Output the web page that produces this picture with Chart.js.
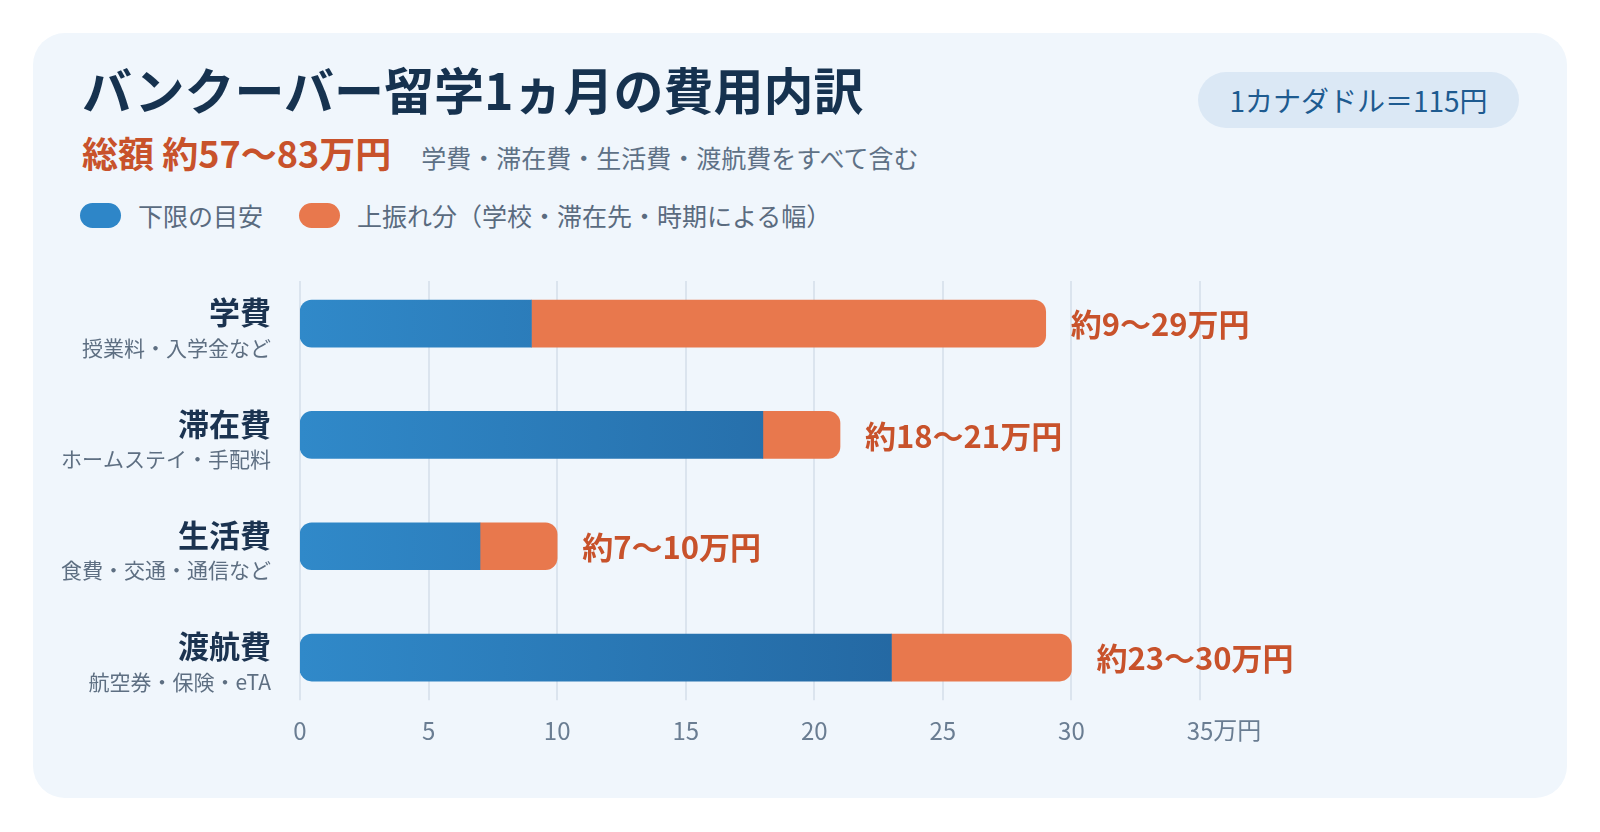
<!DOCTYPE html>
<html lang="ja">
<head>
<meta charset="utf-8">
<title>バンクーバー留学1ヵ月の費用内訳</title>
<script src="https://cdn.jsdelivr.net/npm/chart.js@4/dist/chart.umd.min.js"></script>
<style>
  html, body { margin: 0; padding: 0; background: #ffffff; }
  body { width: 1600px; height: 832px; position: relative; overflow: hidden;
         font-family: "Noto Sans CJK JP", "Noto Sans", sans-serif; }
  .card { position: absolute; left: 33px; top: 33px; width: 1534px; height: 765px;
          border-radius: 32px; background: #f0f6fc; }
  .title { position: absolute; left: 82px; top: 58px; margin: 0;
           font-size: 50px; font-weight: 700; color: #16324f; line-height: 1.2; }
  .sub { position: absolute; left: 82px; top: 131px; white-space: nowrap; line-height: 1.2; }
  .sub .total { font-size: 36px; font-weight: 700; color: #c8522b; }
  .sub .note { font-size: 25px; color: #5e7186; margin-left: 30px; }
  .legend { position: absolute; left: 80px; top: 197px; height: 36px; display: flex; align-items: center;
            font-size: 25px; color: #5a6b7f; }
  .legend .sw { width: 41px; height: 25px; border-radius: 13px; display: inline-block; margin-right: 17px; }
  .legend .item { display: flex; align-items: center; margin-right: 36px; }
  .badge { position: absolute; left: 1198px; top: 72px; width: 321px; height: 56px; border-radius: 28px;
           background: #dbe8f5; color: #1e5b90; font-size: 28px; display: flex;
           align-items: center; justify-content: center; }
  .chart-box { position: absolute; left: 0; top: 0; width: 1600px; height: 832px; }
</style>
</head>
<body>
<div class="card"></div>
<h1 class="title">バンクーバー留学1ヵ月の費用内訳</h1>
<div class="sub"><span class="total">総額 約57〜83万円</span><span class="note">学費・滞在費・生活費・渡航費をすべて含む</span></div>
<div class="legend">
  <div class="item"><span class="sw" style="background:#2e86c8"></span>下限の目安</div>
  <div class="item"><span class="sw" style="background:#e8784d"></span>上振れ分（学校・滞在先・時期による幅）</div>
</div>
<div class="badge">1カナダドル＝115円</div>
<div class="chart-box"><canvas id="costChart"></canvas></div>

<script>
// ---- data (万円) ----
const categories = ["学費", "滞在費", "生活費", "渡航費"];
const subLabels = ["授業料・入学金など", "ホームステイ・手配料", "食費・交通・通信など", "航空券・保険・eTA"];
const lowValues = [9, 18, 7, 23];     // 下限の目安
const highValues = [29, 21, 10, 30];  // 上限
const tickValues = [0, 5, 10, 15, 20, 25, 30, 35];
const axisUnit = "万円";

const FONT = '"Noto Sans CJK JP", "Noto Sans", sans-serif';
const ORANGE = "#e8784d";
const LABEL_ORANGE = "#c8522b";
const TICK_COLOR = "#6a7d92";

// blue fill: gradient running across the value axis
function blueFill(ctx) {
  const chart = ctx.chart;
  if (!chart.chartArea) return "#2e86c8";
  const x = chart.scales.x;
  const g = chart.ctx.createLinearGradient(x.getPixelForValue(0), 0, x.getPixelForValue(25), 0);
  g.addColorStop(0, "#3089c9");
  g.addColorStop(1, "#2366a0");
  return g;
}

// grid lines (a bit shorter than the chart area, like the original)
const gridPlugin = {
  id: "gridLines",
  beforeDatasetsDraw(chart) {
    const { ctx, chartArea } = chart;
    const x = chart.scales.x;
    ctx.save();
    ctx.strokeStyle = "#dbe4ee";
    ctx.lineWidth = 2;
    tickValues.forEach(v => {
      const px = Math.round(x.getPixelForValue(v));
      ctx.beginPath();
      ctx.moveTo(px, chartArea.top + 13);
      ctx.lineTo(px, chartArea.bottom - 13);
      ctx.stroke();
    });
    ctx.restore();
  }
};

// category labels, range labels and the unit after the last tick
const labelPlugin = {
  id: "rangeLabels",
  afterDatasetsDraw(chart) {
    const { ctx } = chart;
    const x = chart.scales.x;
    const y = chart.scales.y;
    ctx.save();
    ctx.textBaseline = "middle";

    categories.forEach((cat, i) => {
      const cy = y.getPixelForValue(i);
      ctx.textAlign = "right";
      ctx.fillStyle = "#1b3350";
      ctx.font = `700 31px ${FONT}`;
      ctx.fillText(cat, 271, cy - 11);
      ctx.fillStyle = "#5e6f82";
      ctx.font = `400 21px ${FONT}`;
      ctx.fillText(subLabels[i], 271, cy + 24);

      ctx.textAlign = "left";
      ctx.fillStyle = LABEL_ORANGE;
      ctx.font = `700 31px ${FONT}`;
      ctx.fillText(`約${lowValues[i]}〜${highValues[i]}万円`, x.getPixelForValue(highValues[i]) + 25, cy + 1);
    });

    // "万円" after the last tick number
    const last = tickValues[tickValues.length - 1];
    ctx.font = `400 24px ${FONT}`;
    const w = ctx.measureText(String(last)).width;
    ctx.fillStyle = TICK_COLOR;
    ctx.textAlign = "left";
    const tickY = chart.chartArea.bottom + 3 + 14;
    ctx.fillText(axisUnit, x.getPixelForValue(last) + w / 2, tickY);
    ctx.restore();
  }
};

const canvas = document.getElementById("costChart");

new Chart(canvas.getContext("2d"), {
  type: "bar",
  data: {
    labels: categories,
    datasets: [
      {
        label: "下限の目安",
        data: lowValues,
        backgroundColor: blueFill,
        borderRadius: { topLeft: 12, bottomLeft: 12, topRight: 0, bottomRight: 0 },
        borderSkipped: false,
        barThickness: 47
      },
      {
        label: "上振れ分（学校・滞在先・時期による幅）",
        data: lowValues.map((v, i) => [v, highValues[i]]),
        backgroundColor: ORANGE,
        borderRadius: { topLeft: 0, bottomLeft: 0, topRight: 12, bottomRight: 12 },
        borderSkipped: false,
        barThickness: 47
      }
    ]
  },
  options: {
    indexAxis: "y",
    responsive: true,
    maintainAspectRatio: false,
    animation: false,
    layout: { padding: { left: 300, right: 400, top: 268, bottom: 84 } },
    plugins: { legend: { display: false }, tooltip: { enabled: false } },
    scales: {
      x: {
        min: 0,
        max: 35,
        grid: { display: false, drawTicks: false },
        border: { display: false },
        ticks: {
          stepSize: 5,
          padding: 3,
          color: TICK_COLOR,
          font: { family: FONT, size: 24 }
        }
      },
      y: {
        display: false,
        grid: { display: false }
      }
    },
    datasets: { bar: { grouped: false } }
  },
  plugins: [gridPlugin, labelPlugin]
});
</script>
</body>
</html>
